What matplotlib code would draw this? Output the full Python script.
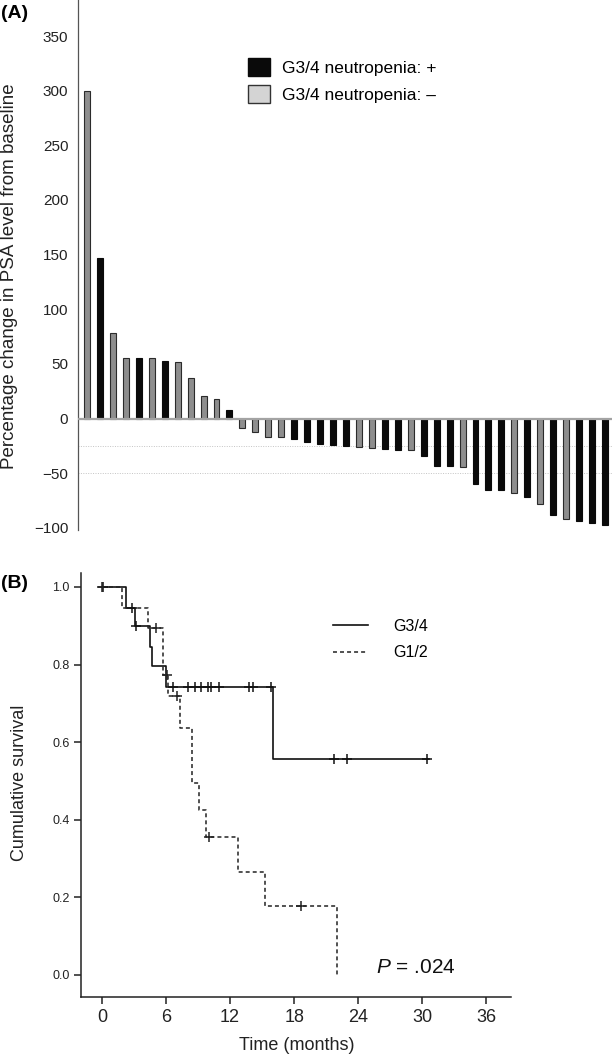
"""Waterfall of PSA change (A) and Kaplan-Meier survival by neutropenia grade (B)."""

import matplotlib
matplotlib.use("Agg")
import matplotlib.pyplot as plt
import numpy as np
from matplotlib.patches import Patch
from matplotlib.lines import Line2D

plt.rcParams["font.family"] = ["Liberation Sans", "DejaVu Sans"]
plt.rcParams["mathtext.fontset"] = "custom"
plt.rcParams["mathtext.it"] = "Liberation Sans:italic"
plt.rcParams["mathtext.rm"] = "Liberation Sans"

# ---- panel A: best PSA change per patient (1 = G3/4 neutropenia, 0 = none)
psa_change = [300, 147, 78, 55, 55, 55, 53, 52, 37, 21, 17.5, 7.5,
              -8.5, -12.5, -16.5, -16.5, -18.5, -21.5, -23.5, -24, -25.5,
              -26, -26.8, -27.7, -29, -29, -34.5, -43, -43.6, -44.8,
              -59.5, -65, -65.5, -68, -72, -78, -88, -92, -94, -96, -97]
neutropenia = [0, 1, 0, 0, 1, 0, 1, 0, 0, 0, 0, 1,
               0, 0, 0, 0, 1, 1, 1, 1, 1,
               0, 0, 1, 1, 0, 1, 1, 1, 0,
               1, 1, 1, 0, 1, 0, 1, 0, 1, 1, 1]
psa_ticks = [350, 300, 250, 200, 150, 100, 50, 0, -50, -100]

# ---- panel B: Kaplan-Meier steps (months, cumulative survival)
g34_time = [0, 2.25, 3.1, 4.5, 4.7, 6.0, 16.0, 30.6]
g34_surv = [1.0, 0.947, 0.90, 0.846, 0.795, 0.743, 0.557, 0.557]
g34_censor = [0.1, 2.85, 3.2, 6.7, 8.1, 8.7, 9.3, 9.95, 10.2, 11.0,
              13.8, 14.1, 15.8, 21.7, 22.9, 30.4]

g12_time = [0, 1.9, 4.3, 5.75, 6.15, 7.3, 8.4, 9.1, 9.7, 12.7, 15.3, 22.0]
g12_surv = [1.0, 0.947, 0.894, 0.774, 0.718, 0.637, 0.495, 0.425, 0.356,
            0.265, 0.177, 0.0]
g12_censor = [0.0, 5.1, 6.05, 7.0, 10.0, 18.6]

time_ticks = [0, 6, 12, 18, 24, 30, 36]
surv_ticks = [0.0, 0.2, 0.4, 0.6, 0.8, 1.0]

W, H = 612, 1059
fig = plt.figure(figsize=(W / 100, H / 100), dpi=100)


def fx(px):
    return px / W


def fy(py):
    return 1 - py / H


# ---------------- panel A
ax1 = fig.add_axes([fx(78), fy(530), 1 - fx(78), fy(0) - fy(530)])
x = np.arange(1, len(psa_change) + 1)
colors = ["#0a0a0a" if n else "#8e8e8e" for n in neutropenia]
edges = ["#0a0a0a" if n else "#2b2b2b" for n in neutropenia]
ax1.bar(x, psa_change, width=0.46, color=colors, edgecolor=edges, linewidth=0.8, zorder=3)
ax1.axhline(0, color="#a3a3a3", lw=1.6, zorder=4)
for lvl in (-25, -50):
    ax1.axhline(lvl, color="#c4c4c4", lw=0.7, ls=(0, (1, 1.5)), zorder=1)

ax1.set_xlim(0.305, 41.54)
ax1.set_ylim(-102, 383)
ax1.set_yticks(psa_ticks)
ax1.set_yticklabels([str(t).replace("-", "\u2212") for t in psa_ticks])
ax1.tick_params(axis="y", length=0, pad=7, labelsize=11, colors="#222222")
ax1.set_xticks([])
for s in ("top", "right", "bottom"):
    ax1.spines[s].set_visible(False)
ax1.spines["left"].set_color("#555555")
ax1.spines["left"].set_linewidth(0.9)

handles = [Patch(facecolor="#0a0a0a", edgecolor="#0a0a0a", label="G3/4 neutropenia: +"),
           Patch(facecolor="#d4d4d4", edgecolor="#333333", label="G3/4 neutropenia: \u2013")]
ax1.legend(handles=handles, loc="upper left", bbox_to_anchor=(fx(248), fy(58)),
           bbox_transform=fig.transFigure, frameon=False, fontsize=12.5,
           handlelength=1.25, handleheight=1.2, handletextpad=0.7,
           labelspacing=0.55, borderpad=0, borderaxespad=0)

fig.text(fx(10), fy(276), "Percentage change in PSA level from baseline",
         rotation=90, ha="center", va="center", fontsize=13.5, color="#222222")
fig.text(fx(1), fy(14), "(A)", ha="left", va="center", fontsize=14, fontweight="bold")

# ---------------- panel B
ax2 = fig.add_axes([fx(81), fy(997), fx(511) - fx(81), fy(573) - fy(997)])


def surv_at(t, times, surv):
    idx = np.searchsorted(times, t, side="right") - 1
    return np.asarray(surv)[idx]


ax2.step(g34_time, g34_surv, where="post", color="#111111", lw=1.2)
ax2.step(g12_time, g12_surv, where="post", color="#222222", lw=1.1, ls=(0, (2.6, 2)))
ax2.plot(g34_censor, surv_at(g34_censor, g34_time, g34_surv), ls="none",
         marker="+", ms=6.5, mew=1.1, color="#111111")
ax2.plot(g12_censor, surv_at(g12_censor, g12_time, g12_surv), ls="none",
         marker="+", ms=6.5, mew=1.1, color="#222222")

ax2.set_xlim(-1.96, 38.3)
ax2.set_ylim(-0.057, 1.036)
ax2.set_xticks(time_ticks)
ax2.set_yticks(surv_ticks)
ax2.set_yticklabels([f"{v:.1f}" for v in surv_ticks])
ax2.tick_params(axis="x", length=5, width=1.1, pad=4, labelsize=13, colors="#222222")
ax2.tick_params(axis="y", length=5, width=1.1, pad=3, labelsize=9, colors="#222222")
for s in ("top", "right"):
    ax2.spines[s].set_visible(False)
for s in ("left", "bottom"):
    ax2.spines[s].set_color("#222222")
    ax2.spines[s].set_linewidth(1.1)

km_handles = [Line2D([], [], color="#111111", lw=1.2, label="G3/4"),
              Line2D([], [], color="#222222", lw=1.1, ls=(0, (2.6, 2)), label="G1/2")]
ax2.legend(handles=km_handles, loc="upper left", bbox_to_anchor=(fx(333), fy(619)),
           bbox_transform=fig.transFigure, frameon=False, fontsize=11.5,
           handlelength=2.2, handletextpad=1.6, labelspacing=0.7,
           borderpad=0, borderaxespad=0)

ax2.text(25.7, 0.02, r"$\it{P}$ = .024", ha="left", va="center", fontsize=15, color="#111111")

fig.text(fx(20), fy(783), "Cumulative survival", rotation=90, ha="center", va="center",
         fontsize=13, color="#222222")
fig.text(fx(297), fy(1046), "Time (months)", ha="center", va="center", fontsize=13,
         color="#222222")
fig.text(fx(1), fy(584), "(B)", ha="left", va="center", fontsize=14, fontweight="bold")

fig.savefig("out.png", dpi=100)
